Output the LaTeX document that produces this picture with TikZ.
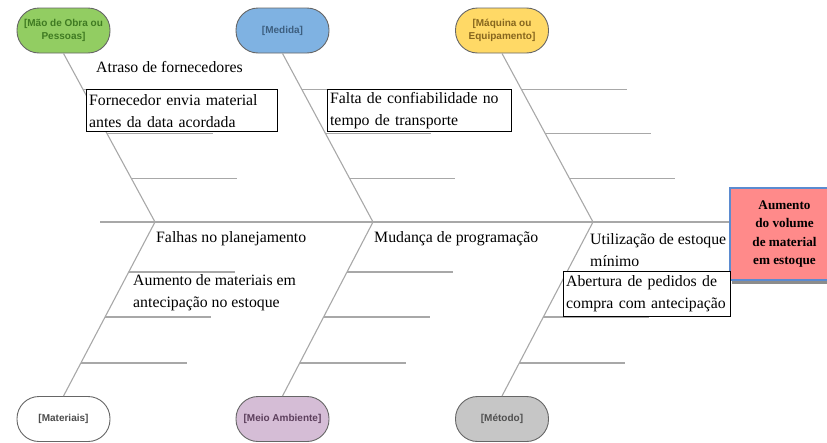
\documentclass[tikz,border=0pt]{standalone}
\usepackage{fontspec}
\setmainfont{Liberation Serif}
\setsansfont{Liberation Sans}
\usepackage{tikz}
\usetikzlibrary{calc,shadows}
\definecolor{bonegray}{HTML}{A8A8A8}
\definecolor{verde}{HTML}{92CD62}
\definecolor{verdetxt}{HTML}{3F7A22}
\definecolor{azul}{HTML}{7FB2E2}
\definecolor{azultxt}{HTML}{3D5F80}
\definecolor{amarelo}{HTML}{FFD966}
\definecolor{amarelotxt}{HTML}{86661E}
\definecolor{lilas}{HTML}{D5BDD6}
\definecolor{lilastxt}{HTML}{5C3F5C}
\definecolor{cinza}{HTML}{C6C6C6}
\definecolor{cinzatxt}{HTML}{505050}
\definecolor{salmao}{HTML}{FF8A8A}
\definecolor{bordaazul}{HTML}{5B8BD0}

\begin{document}
\begin{tikzpicture}[x=1pt,y=-1pt,
cause/.style={draw=black!60,line width=0.9pt,rounded corners=22pt,
minimum width=93pt,minimum height=45pt,inner sep=1pt,align=center,
font=\sffamily\bfseries\fontsize{10}{12.5}\selectfont},
bone/.style={draw=bonegray,line width=1.1pt},
txt/.style={anchor=west,inner sep=0pt,align=left,
font=\fontsize{15.8}{22}\selectfont},
boxtxt/.style={txt,anchor=north west,draw,line width=1.2pt,fill=white,
inner xsep=2pt,inner ysep=0pt},
efeitobox/.style={draw=bordaazul,line width=1.3pt,fill=salmao,
minimum width=109pt,minimum height=92pt,align=center,
drop shadow={shadow xshift=2pt,shadow yshift=-4pt,fill=black!45,opacity=1},
font=\bfseries\fontsize{13.2}{18.5}\selectfont}]
\clip (0,0) rectangle (827,442);
\node[cause,fill=verde,text=verdetxt] (mao) at (63.5,30.5) {[Mão de Obra ou\\Pessoas]};
\node[cause,fill=azul,text=azultxt] (medida) at (282.5,30.5) {[Medida]};
\node[cause,fill=amarelo,text=amarelotxt] (maquina) at (502,30.5) {[Máquina ou\\Equipamento]};
\node[cause,fill=white,text=black!70] (materiais) at (63.5,419) {[Materiais]};
\node[cause,fill=lilas,text=lilastxt] (meio) at (282.5,419) {[Meio Ambiente]};
\node[cause,fill=cinza,text=cinzatxt] (metodo) at (502,419) {[Método]};
\coordinate (cauda) at (100,222);
\coordinate (j1) at (155,222);
\coordinate (j2) at (373,222);
\coordinate (j3) at (593,222);
\foreach \b/\j in {mao/j1,medida/j2,maquina/j3}
{
\draw[bone] (\b.south) -- (\j);
\foreach \t in {0.213,0.473,0.74}
\draw[bone] ($(\b.south)!\t!(\j)$) -- ++(106,0);
}
\foreach \b/\j in {materiais/j1,meio/j2,metodo/j3}
{
\draw[bone] (\b.north) -- (\j);
\foreach \t in {0.19,0.454,0.713}
\draw[bone] ($(\b.north)!\t!(\j)$) -- ++(106,0);
}
\node[efeitobox] (efeito) at (784.5,234) {Aumento\\do volume\\de material\\em estoque};
\draw[bone] (cauda) -- (cauda -| efeito.west);
\node[txt] (atraso) at (96,67) {Atraso de fornecedores};
\node[boxtxt,minimum width=191pt,minimum height=42pt,text width=186pt] (fornecedor) at (86,89) {Fornecedor envia material\\antes da data acordada};
\node[boxtxt,minimum width=184pt,minimum height=42pt,text width=179pt] (falta) at (327,89) {Falta de confiabilidade no\\tempo de transporte};
\node[txt] (falhas) at (156,239) {Falhas no planejamento};
\node[txt] (mudanca) at (374,239) {Mudança de programação};
\node[txt] (utilizacao) at (590,250.5) {Utilização de estoque\\mínimo};
\node[txt] (aumento) at (133,293) {Aumento de materiais em\\antecipação no estoque};
\node[boxtxt,minimum width=167pt,minimum height=45pt,text width=162pt] (abertura) at (563,271) {Abertura de pedidos de\\compra com antecipação};
\end{tikzpicture}
\end{document}
